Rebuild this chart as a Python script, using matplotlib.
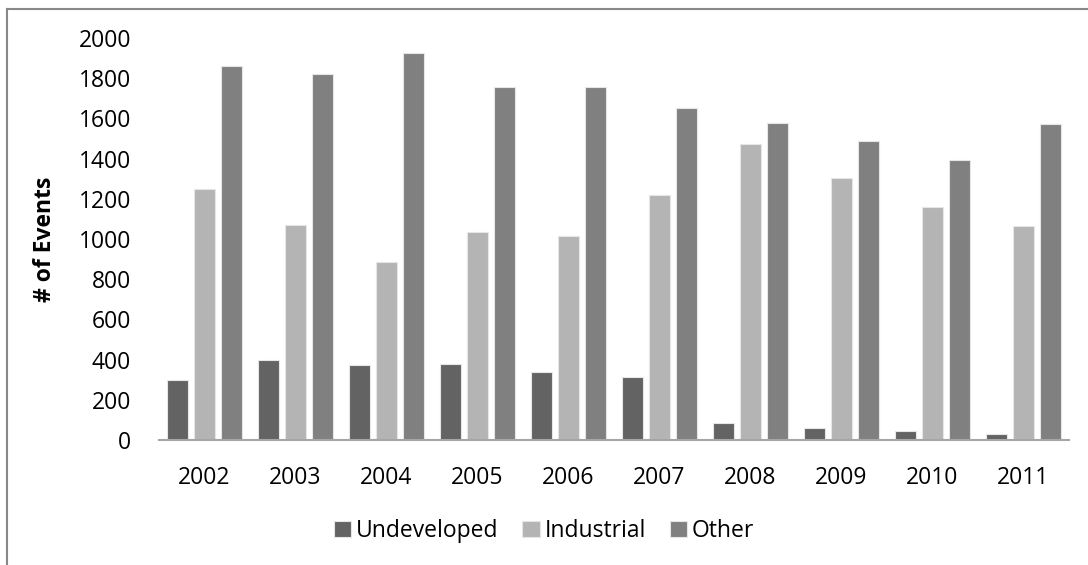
import numpy as np
import matplotlib
matplotlib.use("Agg")
import matplotlib.pyplot as plt
from matplotlib.lines import Line2D

plt.rcParams['font.family'] = ['Open Sans', 'DejaVu Sans']

years = ['2002', '2003', '2004', '2005', '2006', '2007', '2008', '2009', '2010', '2011']
undeveloped = [300, 398, 371, 378, 340, 312, 85, 61, 45, 30]
industrial = [1247, 1070, 885, 1036, 1015, 1217, 1471, 1302, 1161, 1066]
other = [1861, 1819, 1924, 1758, 1756, 1652, 1575, 1486, 1391, 1571]

series = [
    ('Undeveloped', undeveloped, '#636363'),
    ('Industrial', industrial, '#b4b4b4'),
    ('Other', other, '#808080'),
]

W, H = 1088, 565
fig = plt.figure(figsize=(W / 100, H / 100), dpi=100)
ax = fig.add_axes([159 / W, 1 - 440 / H, (1069 - 159) / W, (440 - 38) / H])

x = np.arange(len(years))
bar_w = 0.238
pitch = 0.295
for i, (name, vals, color) in enumerate(series):
    ax.bar(x + (i - 1) * pitch, vals, width=bar_w, color=color,
           edgecolor='#e6e6e6', linewidth=0.8, label=name, zorder=2)

ax.set_xlim(-0.5, len(years) - 0.5)
ax.set_ylim(0, 2000)
ax.set_yticks(np.arange(0, 2001, 200))
ax.set_xticks(x)
ax.set_xticklabels(years)
ax.tick_params(axis='both', length=0, labelsize=16.5, colors='black')
ax.tick_params(axis='y', pad=20)
ax.tick_params(axis='x', pad=19)

for side in ('top', 'right', 'left'):
    ax.spines[side].set_visible(False)
ax.spines['bottom'].set_color('#a6a6a6')
ax.spines['bottom'].set_linewidth(1.5)

ax.set_ylabel('# of Events', fontsize=16.5, fontweight='bold')
ax.yaxis.set_label_coords((57 - 159) / 910, 0.5)

leg = fig.legend(loc='center', bbox_to_anchor=(0.5, 1 - 531 / H), ncol=3,
                 frameon=False, fontsize=16.5, handlelength=0.75, handleheight=0.75,
                 handletextpad=0.2, columnspacing=1.05)

# chart frame (left and top edges)
fig.add_artist(Line2D([7 / W, 7 / W], [0, 1 - 9 / H], transform=fig.transFigure,
                      color='#888888', linewidth=1.5))
fig.add_artist(Line2D([7 / W, 1], [1 - 9 / H, 1 - 9 / H], transform=fig.transFigure,
                      color='#888888', linewidth=1.5))

fig.savefig('out.png', dpi=100)
